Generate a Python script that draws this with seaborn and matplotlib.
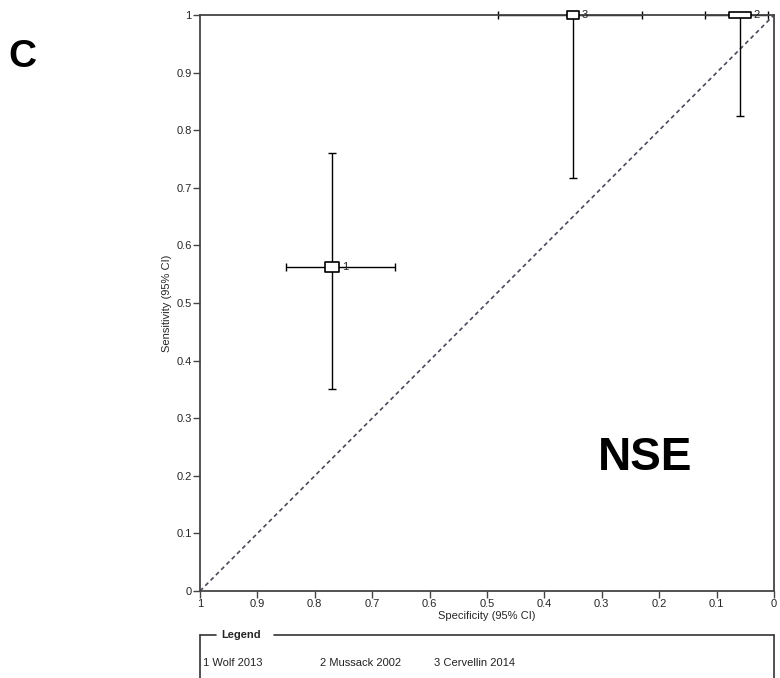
import matplotlib
matplotlib.use("Agg")
import matplotlib.pyplot as plt
from matplotlib.path import Path
from matplotlib.lines import Line2D
import seaborn as sns
import pandas as pd

# Study-level estimates (specificity / sensitivity with 95% CI)
study_ids = ["1", "2", "3"]
study_names = ["Wolf 2013", "Mussack 2002", "Cervellin 2014"]
specificity = [0.77, 0.06, 0.35]
spec_low = [0.66, 0.01, 0.23]
spec_high = [0.85, 0.12, 0.48]
sensitivity = [0.5625, 1.0, 1.0]
sens_low = [0.35, 0.825, 0.717]
sens_high = [0.76, 1.0, 1.0]

x_ticks = [1.0, 0.9, 0.8, 0.7, 0.6, 0.5, 0.4, 0.3, 0.2, 0.1, 0.0]
x_tick_labels = ["1", "0.9", "0.8", "0.7", "0.6", "0.5", "0.4", "0.3", "0.2", "0.1", "0"]
y_ticks = [0.0, 0.1, 0.2, 0.3, 0.4, 0.5, 0.6, 0.7, 0.8, 0.9, 1.0]
y_tick_labels = ["0", "0.1", "0.2", "0.3", "0.4", "0.5", "0.6", "0.7", "0.8", "0.9", "1"]

# box shapes (width, height in px) reflecting study size
box_w = [14, 22, 12]
box_h = [10, 6, 8]

df = pd.DataFrame({
    "id": study_ids, "spec": specificity, "sens": sensitivity,
    "spec_lo": spec_low, "spec_hi": spec_high,
    "sens_lo": sens_low, "sens_hi": sens_high,
})

sns.set_style("white")
plt.rcParams["font.family"] = ["Liberation Sans", "DejaVu Sans"]

W, H = 780, 678
fig = plt.figure(figsize=(W / 100, H / 100), dpi=100)
L, R, T, B = 200, 774, 15, 591
ax = fig.add_axes([L / W, 1 - B / H, (R - L) / W, (B - T) / H])

spine_col = "#444444"
for s in ax.spines.values():
    s.set_color(spine_col)
    s.set_linewidth(1.3)
    s.set_visible(True)
    s.set_zorder(4)

# chance line
ax.plot([1, 0], [0, 1], ls=(0, (2.5, 2)), color="#4a4a5a", lw=1.2, zorder=1)

# confidence intervals
ax.errorbar(df["spec"], df["sens"],
            yerr=[df["sens"] - df["sens_lo"], df["sens_hi"] - df["sens"]],
            xerr=[df["spec"] - df["spec_lo"], df["spec_hi"] - df["spec"]],
            fmt="none", ecolor="black", elinewidth=1, capsize=3, capthick=1,
            zorder=3, clip_on=False)

# study boxes
for i, row in df.iterrows():
    w, h = box_w[i], box_h[i]
    m = max(w, h)
    verts = [(-w / m, -h / m), (w / m, -h / m), (w / m, h / m), (-w / m, h / m), (-w / m, -h / m)]
    marker = Path(verts, [Path.MOVETO, Path.LINETO, Path.LINETO, Path.LINETO, Path.CLOSEPOLY])
    size_pt = m * 0.72
    sns.scatterplot(x=[row["spec"]], y=[row["sens"]], ax=ax, marker=marker,
                    s=size_pt ** 2, facecolor="white", edgecolor="black",
                    linewidth=1.2, zorder=5, clip_on=False, legend=False)
    ax.annotate(row["id"], (row["spec"], row["sens"]), xytext=(w / 2 * 0.72 + 2, 0),
                textcoords="offset points", ha="left", va="center",
                fontsize=8, color="#222222", zorder=6, annotation_clip=False)

ax.set_xlim(1, 0)
ax.set_ylim(0, 1)
ax.set_xticks(x_ticks)
ax.set_xticklabels(x_tick_labels)
ax.set_yticks(y_ticks)
ax.set_yticklabels(y_tick_labels)
ax.tick_params(axis="both", direction="out", length=5, width=1, color=spine_col,
               labelsize=8, pad=1, bottom=True, left=True)
ax.set_xlabel("Specificity (95% CI)", fontsize=8, labelpad=1)
ax.set_ylabel("Sensitivity (95% CI)", fontsize=8, labelpad=3)

ax.text(0.225, 0.231, "NSE", transform=ax.transData, fontsize=33, fontweight="bold",
        ha="center", va="center", color="black",
        family=["Liberation Sans", "DejaVu Sans"])

fig.text(22 / W, 1 - 57 / H, "C", fontsize=28, fontweight="bold", ha="center",
         va="center", color="black", family=["Liberation Sans", "DejaVu Sans"])


# legend box
def fx(px):
    return px / W


def fy(py):
    return 1 - py / H


ly = 635
lc = "#333333"
fig.add_artist(Line2D([fx(L), fx(216)], [fy(ly), fy(ly)], color=lc, lw=1.2))
fig.add_artist(Line2D([fx(274), fx(R)], [fy(ly), fy(ly)], color=lc, lw=1.2))
fig.add_artist(Line2D([fx(L), fx(L)], [fy(ly), fy(H + 2)], color=lc, lw=1.2))
fig.add_artist(Line2D([fx(R), fx(R)], [fy(ly), fy(H + 2)], color=lc, lw=1.2))
fig.text(fx(221), fy(ly), "Legend", fontsize=8, fontweight="bold", ha="left", va="center")

entry_x = [203, 320, 434]
for xi, sid, name in zip(entry_x, study_ids, study_names):
    fig.text(fx(xi), fy(663), f"{sid} {name}", fontsize=8, ha="left", va="center",
             color="#222222")

fig.savefig("out.png", dpi=100)
